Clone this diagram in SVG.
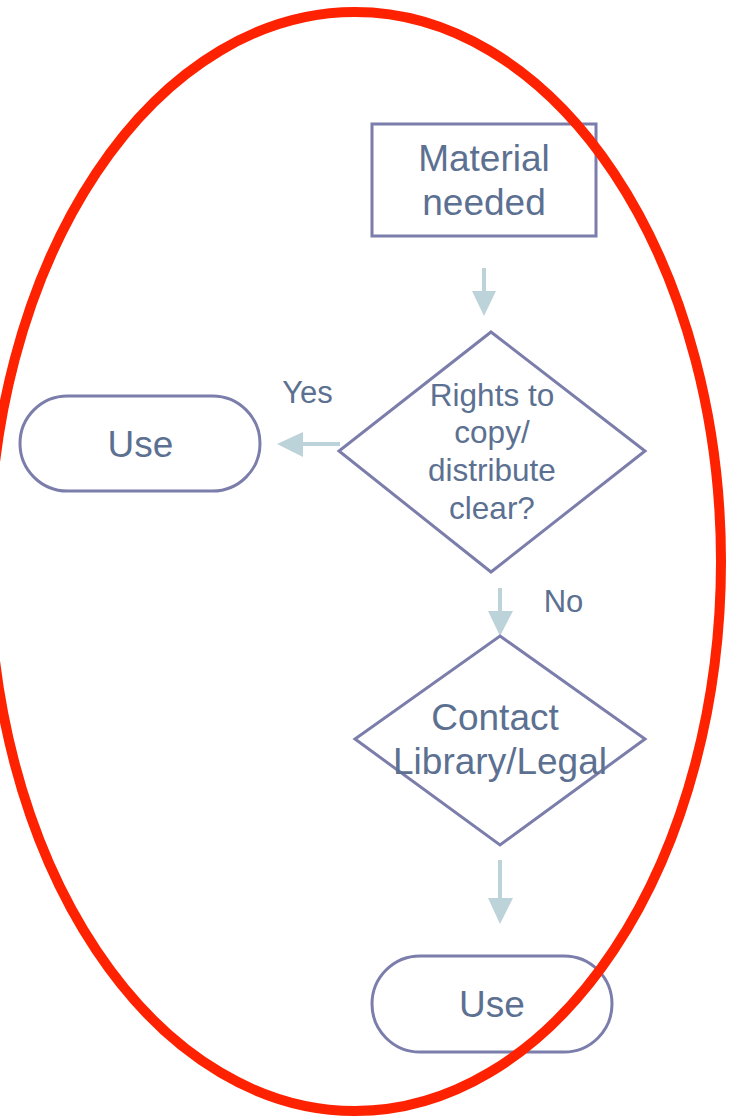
<svg xmlns="http://www.w3.org/2000/svg" width="733" height="1117" viewBox="0 0 733 1117">
<style>
.shape{fill:#ffffff;stroke:#7b7dab;stroke-width:3}
.t{font-family:"Liberation Sans",Arial,sans-serif;fill:#5c7091;text-anchor:middle}
.big{font-size:37px}
.mid{font-size:31.5px}
.lbl{font-size:31px}
.sh{stroke:#bdd3da;stroke-width:4;fill:none}
.hd{fill:#bdd3da}
</style>
<rect x="0" y="0" width="733" height="1117" fill="#ffffff"/>
<g id="connectors">
<line class="sh" x1="484" y1="268" x2="484" y2="293"/>
<polygon class="hd" points="472,291 496,291 484,316"/>
<line class="sh" x1="340" y1="444" x2="301" y2="444"/>
<polygon class="hd" points="303,432 303,457 277,444"/>
<line class="sh" x1="500" y1="588" x2="500" y2="613"/>
<polygon class="hd" points="488,611 513,611 500,636"/>
<line class="sh" x1="500" y1="860" x2="500" y2="900"/>
<polygon class="hd" points="488,898 513,898 500,924"/>
<text class="t lbl" x="307.5" y="403">Yes</text>
<text class="t lbl" x="563.5" y="612">No</text>
</g>
<g id="material">
<rect class="shape" x="372" y="124" width="224" height="112"/>
<text class="t big" x="484" y="171">Material</text>
<text class="t big" x="484" y="215">needed</text>
</g>
<g id="decision-rights">
<polygon class="shape" points="491,332 645,451 491,572 339,451"/>
<text class="t mid" x="492" y="406">Rights to</text>
<text class="t mid" x="492" y="443">copy/</text>
<text class="t mid" x="492" y="481">distribute</text>
<text class="t mid" x="492" y="519">clear?</text>
</g>
<g id="use-left">
<rect class="shape" x="20" y="396" width="240" height="95" rx="47.5"/>
<text class="t big" x="140.5" y="457">Use</text>
</g>
<g id="contact">
<polygon class="shape" points="500,636 645,739 500,845 355,739"/>
<text class="t big" x="495" y="730">Contact</text>
<text class="t big" x="500" y="774">Library/Legal</text>
</g>
<g id="use-bottom">
<rect class="shape" x="372" y="956" width="240" height="96" rx="48"/>
<text class="t big" x="492" y="1017">Use</text>
</g>
<g id="highlight">
<ellipse cx="355" cy="561.5" rx="366" ry="549.5" fill="none" stroke="#ff2200" stroke-width="10"/>
</g>
</svg>
